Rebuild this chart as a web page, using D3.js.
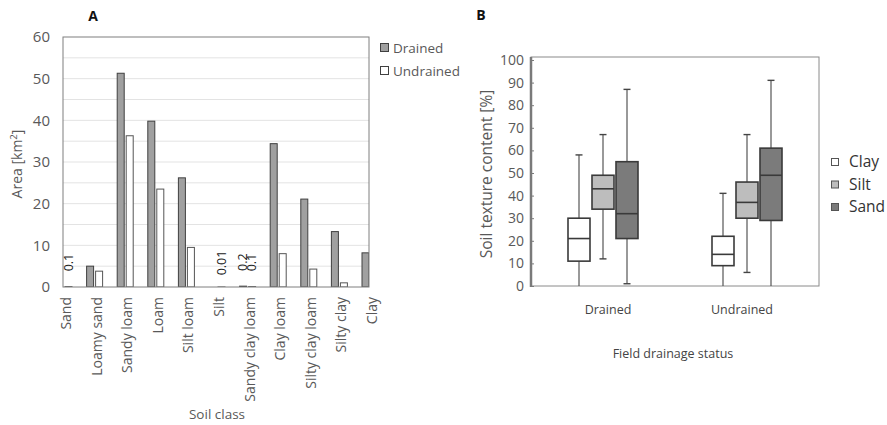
<!DOCTYPE html>
<html>
<head>
<meta charset="utf-8">
<script src="https://cdn.jsdelivr.net/npm/d3@7"></script>
<style>
  html, body { margin: 0; padding: 0; background: #fff; }
  svg text { font-family: "Open Sans", "Noto Sans", sans-serif; }
</style>
</head>
<body>
<svg id="chart" width="887" height="425"></svg>
<script>
// ---- Panel A: area per soil class ----
const soilClasses = ["Sand", "Loamy sand", "Sandy loam", "Loam", "Silt loam", "Silt",
  "Sandy clay loam", "Clay loam", "Silty clay loam", "Silty clay", "Clay"];
const drainedArea   = [0, 5.0, 51.3, 39.8, 26.2, 0, 0.2, 34.4, 21.1, 13.3, 8.2];
const undrainedArea = [0.1, 3.8, 36.3, 23.5, 9.5, 0.01, 0.1, 8.0, 4.3, 1.0, 0];
const areaTicks = [0, 10, 20, 30, 40, 50, 60];
const areaGrid = [5, 10, 15, 20, 25, 30, 35, 40, 45, 50, 55];
// small values get a printed label
const areaLabels = [
  { cls: "Sand", series: "Undrained", value: 0.1, text: "0.1" },
  { cls: "Silt", series: "Undrained", value: 0.01, text: "0.01" },
  { cls: "Sandy clay loam", series: "Drained", value: 0.2, text: "0.2" },
  { cls: "Sandy clay loam", series: "Undrained", value: 0.1, text: "0.1" }
];

// ---- Panel B: texture distributions ----
const drainageGroups = ["Drained", "Undrained"];
const fractions = ["Clay", "Silt", "Sand"];
// [min, q1, median, q3, max] per group, per fraction
const drainedStats = [
  [0, 11, 21, 30, 58],
  [12, 34, 43, 49, 67],
  [1, 21, 32, 55, 87]
];
const undrainedStats = [
  [0, 9, 14, 22, 41],
  [6, 30, 37, 46, 67],
  [0, 29, 49, 61, 91]
];
const textureTicks = [0, 10, 20, 30, 40, 50, 60, 70, 80, 90, 100];

const textGray = "#595959";
const svg = d3.select("#chart");

// ================= Panel A =================
const A = { left: 63, right: 369, top: 37, bottom: 287 };
const xA = d3.scalePoint().domain(soilClasses).range([A.left + 1, A.right + 1]);
const yA = d3.scaleLinear().domain([0, 60]).range([A.bottom, A.top]);
const barW = 7;
const seriesOffset = { Drained: -8, Undrained: 1 };

svg.append("defs").append("clipPath").attr("id", "clipA")
  .append("rect").attr("x", A.left).attr("y", A.top - 5)
  .attr("width", A.right - A.left).attr("height", A.bottom - A.top + 5);

const gA = svg.append("g");

gA.selectAll("line.grid").data(areaGrid).join("line")
  .attr("class", "grid")
  .attr("x1", A.left).attr("x2", A.right)
  .attr("y1", d => yA(d)).attr("y2", d => yA(d))
  .attr("stroke", "#e3e3e3").attr("stroke-width", 1);

const barsA = gA.append("g").attr("clip-path", "url(#clipA)");
barsA.selectAll("rect.dr").data(soilClasses).join("rect")
  .attr("class", "dr")
  .attr("x", d => xA(d) + seriesOffset.Drained)
  .attr("width", barW)
  .attr("y", (d, i) => yA(drainedArea[i]))
  .attr("height", (d, i) => yA(0) - yA(drainedArea[i]))
  .attr("fill", "#a0a0a0").attr("stroke", "#404040").attr("stroke-width", 1);
barsA.selectAll("rect.un").data(soilClasses).join("rect")
  .attr("class", "un")
  .attr("x", d => xA(d) + seriesOffset.Undrained)
  .attr("width", barW)
  .attr("y", (d, i) => yA(undrainedArea[i]))
  .attr("height", (d, i) => yA(0) - yA(undrainedArea[i]))
  .attr("fill", "#ffffff").attr("stroke", "#555555").attr("stroke-width", 1);

// frame
gA.append("rect").attr("x", A.left).attr("y", A.top)
  .attr("width", A.right - A.left).attr("height", A.bottom - A.top)
  .attr("fill", "none").attr("stroke", "#7f7f7f").attr("stroke-width", 1);

// y axis labels
const yAxisA = d3.axisLeft(yA).tickValues(areaTicks).tickSize(0).tickPadding(13);
gA.append("g").attr("transform", `translate(${A.left},0)`).call(yAxisA)
  .call(g => g.select(".domain").remove())
  .selectAll("text").attr("fill", textGray).attr("font-size", 15)
  .attr("font-family", "Open Sans");

// x axis labels (rotated)
gA.selectAll("text.xlab").data(soilClasses).join("text")
  .attr("class", "xlab")
  .attr("transform", d => `translate(${xA(d) + 2},${A.bottom + 10}) rotate(-90)`)
  .attr("text-anchor", "end").attr("dy", "0.35em")
  .attr("font-size", 14).attr("fill", textGray)
  .text(d => d);

// value labels on tiny bars
gA.selectAll("text.vlab").data(areaLabels).join("text")
  .attr("class", "vlab")
  .attr("transform", d => {
    const cx = xA(d.cls) + seriesOffset[d.series] + barW / 2;
    return `translate(${cx},${yA(d.value) - 24}) rotate(-90)`;
  })
  .attr("text-anchor", "middle").attr("dy", "0.35em")
  .attr("font-size", 12.5).attr("fill", "#222")
  .text(d => d.text);

// axis titles
gA.append("text").attr("transform", `translate(17,${(A.top + A.bottom) / 2 + 2}) rotate(-90)`)
  .attr("text-anchor", "middle").attr("dy", "0.35em")
  .attr("font-size", 14).attr("fill", textGray)
  .html("Area [km<tspan dy='-5' font-size='9.5'>2</tspan><tspan dy='5'>]</tspan>");
gA.append("text").attr("x", 217).attr("y", 419)
  .attr("text-anchor", "middle").attr("font-size", 13.5).attr("fill", textGray)
  .text("Soil class");
gA.append("text").attr("x", 93).attr("y", 20.5)
  .attr("text-anchor", "middle").attr("font-size", 14).attr("font-weight", "bold")
  .attr("fill", "#111").text("A");

// legend A
const legA = gA.append("g");
const legAItems = [
  { name: "Drained", fill: "#a0a0a0", stroke: "#404040" },
  { name: "Undrained", fill: "#ffffff", stroke: "#404040" }
];
legAItems.forEach((it, i) => {
  const yy = 48 + i * 23;
  legA.append("rect").attr("x", 380.5).attr("y", yy - 4.5).attr("width", 8).attr("height", 8)
    .attr("fill", it.fill).attr("stroke", it.stroke);
  legA.append("text").attr("x", 393).attr("y", yy).attr("dy", "0.35em")
    .attr("font-size", 13.5).attr("fill", textGray).text(it.name);
});

// ================= Panel B =================
const B = { left: 531, right: 819, top: 57, bottom: 286 };
const xB = d3.scalePoint().domain(drainageGroups).range([B.left, B.right]).padding(0.5);
const xLab = d3.scalePoint().domain(drainageGroups).range([B.left + 10, B.right - 10]).padding(0.5);
const xInner = d3.scalePoint().domain(fractions).range([-24, 24]);
const yB = d3.scaleLinear().domain([0, 100]).range([B.bottom, 60]);
const fracFill = { Clay: "#ffffff", Silt: "#bdbdbd", Sand: "#7b7b7b" };
const boxW = 22;
const capW = 7;

const gB = svg.append("g");

// frame
gB.append("rect").attr("x", B.left).attr("y", B.top)
  .attr("width", B.right - B.left).attr("height", B.bottom - B.top)
  .attr("fill", "none").attr("stroke", "#8a8a8a").attr("stroke-width", 1);
gB.append("line").attr("x1", B.left).attr("x2", B.left)
  .attr("y1", B.top).attr("y2", B.bottom + 1)
  .attr("stroke", "#7a7a7a").attr("stroke-width", 2.5);

const yAxisB = d3.axisLeft(yB).tickValues(textureTicks).tickSize(-3).tickPadding(7);
gB.append("g").attr("transform", `translate(${B.left},0)`).call(yAxisB)
  .call(g => g.select(".domain").remove())
  .call(g => g.selectAll(".tick line").attr("stroke", "#7a7a7a"))
  .selectAll("text").attr("fill", textGray).attr("font-size", 14)
  .attr("font-family", "Open Sans");

const boxData = [];
drainageGroups.forEach((grp, gi) => {
  const stats = gi === 0 ? drainedStats : undrainedStats;
  fractions.forEach((fr, fi) => {
    const [mn, q1, md, q3, mx] = stats[fi];
    boxData.push({ grp, fr, mn, q1, md, q3, mx });
  });
});

const boxes = gB.selectAll("g.box").data(boxData).join("g")
  .attr("class", "box")
  .attr("transform", d => `translate(${xB(d.grp) + xInner(d.fr)},0)`);

boxes.append("line").attr("x1", 0).attr("x2", 0)
  .attr("y1", d => yB(d.mn)).attr("y2", d => yB(d.q1))
  .attr("stroke", "#555").attr("stroke-width", 1.2);
boxes.append("line").attr("x1", 0).attr("x2", 0)
  .attr("y1", d => yB(d.q3)).attr("y2", d => yB(d.mx))
  .attr("stroke", "#555").attr("stroke-width", 1.2);
boxes.append("line").attr("x1", -capW / 2).attr("x2", capW / 2)
  .attr("y1", d => yB(d.mx)).attr("y2", d => yB(d.mx))
  .attr("stroke", "#444").attr("stroke-width", 1.4);
boxes.filter(d => d.mn > 0).append("line").attr("x1", -capW / 2).attr("x2", capW / 2)
  .attr("y1", d => yB(d.mn)).attr("y2", d => yB(d.mn))
  .attr("stroke", "#444").attr("stroke-width", 1.4);
boxes.append("rect")
  .attr("x", -boxW / 2).attr("width", boxW)
  .attr("y", d => yB(d.q3)).attr("height", d => yB(d.q1) - yB(d.q3))
  .attr("fill", d => fracFill[d.fr]).attr("stroke", "#3a3a3a").attr("stroke-width", 1.6);
boxes.append("line").attr("x1", -boxW / 2).attr("x2", boxW / 2)
  .attr("y1", d => yB(d.md)).attr("y2", d => yB(d.md))
  .attr("stroke", "#3a3a3a").attr("stroke-width", 1.6);

// group labels
gB.selectAll("text.grp").data(drainageGroups).join("text")
  .attr("class", "grp")
  .attr("x", d => xLab(d)).attr("y", 314)
  .attr("text-anchor", "middle").attr("font-size", 12.5).attr("fill", "#444")
  .text(d => d);

gB.append("text").attr("x", 673).attr("y", 358)
  .attr("text-anchor", "middle").attr("font-size", 12.5).attr("fill", "#444")
  .text("Field drainage status");
gB.append("text").attr("transform", `translate(487,174) rotate(-90)`)
  .attr("text-anchor", "middle").attr("dy", "0.35em")
  .attr("font-size", 15.5).attr("fill", textGray)
  .text("Soil texture content [%]");
gB.append("text").attr("x", 481).attr("y", 20)
  .attr("text-anchor", "middle").attr("font-size", 14).attr("font-weight", "bold")
  .attr("fill", "#111").text("B");

// legend B
fractions.forEach((fr, i) => {
  const yy = 162 + i * 22.5;
  gB.append("rect").attr("x", 831.5).attr("y", yy - 3.5).attr("width", 7).attr("height", 7)
    .attr("fill", fracFill[fr]).attr("stroke", "#555");
  gB.append("text").attr("x", 849).attr("y", yy).attr("dy", "0.35em")
    .attr("font-size", 15.5).attr("fill", "#333").text(fr);
});
</script>
</body>
</html>
